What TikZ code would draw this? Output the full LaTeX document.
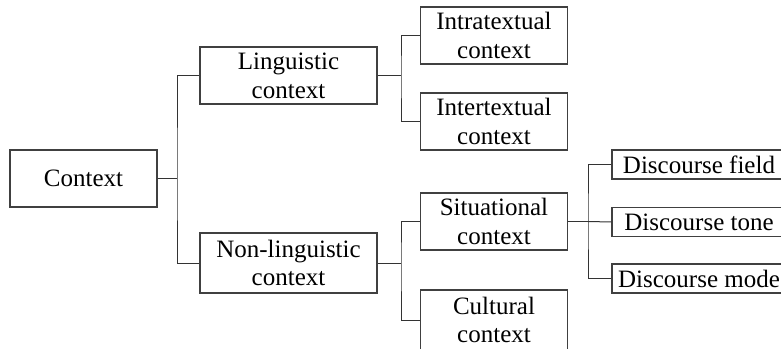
\documentclass[tikz,border=0pt]{standalone}
\usepackage{fontspec}
\setmainfont{Liberation Serif}
\begin{document}
\begin{tikzpicture}[x=1pt,y=-1pt,
  box/.style={draw=black!75, line width=1.1pt, rectangle, inner sep=0pt, align=center,
    font=\fontsize{25}{28.7}\selectfont},
  conn/.style={draw=black!80, line width=1pt}]
\useasboundingbox (0,0) rectangle (781,348);
\clip (0,0) rectangle (781,348);
\node[box, minimum width=147pt, minimum height=57pt] (ctx) at (83.5,178.5) {Context};
\node[box, minimum width=177pt, minimum height=57pt] (ling) at (288.5,75.5) {Linguistic\\context};
\node[box, minimum width=177pt, minimum height=60pt] (nonling) at (288.5,263) {Non-linguistic\\context};
\node[box, minimum width=146.5pt, minimum height=57pt] (intra) at (494,35.5) {Intratextual\\context};
\node[box, minimum width=146.5pt, minimum height=57pt] (inter) at (494,121.5) {Intertextual\\context};
\node[box, minimum width=146.5pt, minimum height=57pt] (sit) at (494,221.5) {Situational\\context};
\node[box, minimum width=146.5pt, minimum height=60pt] (cult) at (494,320) {Cultural\\context};
\node[box, minimum width=174pt, minimum height=29pt] (df) at (699,164.5) {Discourse field};
\node[box, minimum width=174pt, minimum height=28.5pt] (dt) at (699,222) {Discourse tone};
\node[box, minimum width=174pt, minimum height=29pt] (dm) at (699,278.5) {Discourse mode};
\coordinate (b1) at (177,178.5);
\coordinate (b2) at (401,75.5);
\coordinate (b3) at (401,263);
\coordinate (b4) at (588,221.5);
\draw[conn] (ctx.east) -- (b1);
\draw[conn] (ling.west) -| (b1) |- (nonling.west);
\draw[conn] (ling.east) -- (b2);
\draw[conn] (intra.west) -| (b2) |- (inter.west);
\draw[conn] (nonling.east) -- (b3);
\draw[conn] (sit.west) -| (b3) |- (cult.west);
\draw[conn] (sit.east) -- (b4);
\draw[conn] (df.west) -| (b4) |- (dm.west);
\draw[conn] (b4) -- (dt.west);
\end{tikzpicture}
\end{document}
